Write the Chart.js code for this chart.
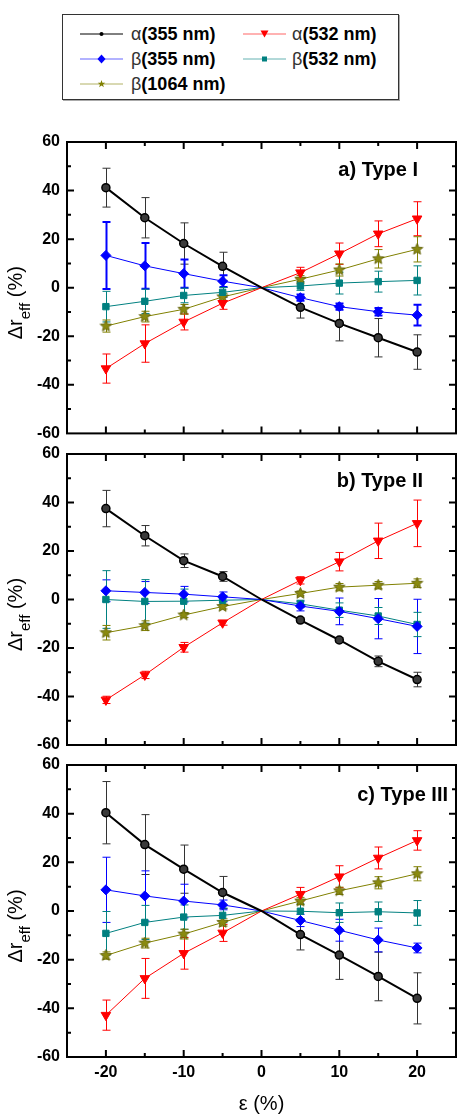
<!DOCTYPE html>
<html>
<head>
<meta charset="utf-8">
<script src="https://cdn.jsdelivr.net/npm/chart.js@4/dist/chart.umd.min.js"></script>
<style>
  body { margin: 0; background: #fff; width: 463px; height: 1114px; position: relative; overflow: hidden;
         font-family: "Liberation Sans", Arial, sans-serif; }
  canvas { position: absolute; left: 0; }
  #legend { position: absolute; left: 62px; top: 14px; width: 337px; height: 86px; box-sizing: border-box;
            border: 1px solid #333; box-shadow: 1px 1px 0 #aaa; }
  .item { position: absolute; height: 22px; line-height: 22px; font-size: 18px; font-weight: bold; white-space: nowrap; }
  .item svg { position: absolute; top: 5px; }
  .greek { font-weight: normal; color: #333; }
</style>
</head>
<body>
<div id="legend"></div>
<canvas id="chartA" width="463" height="325" style="top:125px"></canvas>
<canvas id="chartB" width="463" height="325" style="top:437px"></canvas>
<canvas id="chartC" width="463" height="366" style="top:748px"></canvas>
<script>
// strain, %
const eps = [-20, -15, -10, -5, 0, 5, 10, 15, 20];
const xMajor = [-20, -10, 0, 10, 20];
const xMinor = [-15, -5, 5, 15];
const yMajor = [-40, -20, 0, 20, 40];
const yMinor = [-50, -30, -10, 10, 30, 50];

// a) Type I
const aAlpha355 = [41.2, 28.8, 18.2, 8.8, 0, -8.1, -14.7, -20.6, -26.5];
const aAlpha355Err = [8.0, 8.3, 8.5, 5.8, 0, 4.4, 7.2, 7.9, 7.1];
const aAlpha532 = [-33.3, -23.0, -14.1, -6.4, 0, 6.2, 14.0, 22.2, 28.4];
const aAlpha532Err = [6.0, 7.7, 3.3, 2.5, 0, 2.2, 4.4, 5.3, 7.0];
const aBeta355 = [13.3, 9.0, 5.8, 2.7, 0, -4.1, -7.8, -9.9, -11.3];
const aBeta355Err = [13.8, 9.4, 5.8, 2.4, 0, 1.3, 1.3, 1.5, 4.3];
const aBeta532 = [-7.8, -5.6, -3.2, -1.9, 0, 0.7, 1.9, 2.5, 3.0];
const aBeta532Err = [6.3, 5.0, 3.0, 2.0, 0, 1.8, 4.5, 4.3, 6.0];
const aBeta1064 = [-15.8, -11.9, -8.9, -3.8, 0, 3.5, 7.3, 11.9, 15.8];
const aBeta1064Err = [2.5, 2.2, 2.0, 1.5, 0, 1.5, 2.5, 3.8, 5.2];

// b) Type II
const bAlpha355 = [37.5, 26.3, 16.0, 9.5, 0, -8.5, -16.7, -25.5, -33.0];
const bAlpha355Err = [7.5, 4.2, 2.8, 2.0, 0, 1.0, 1.0, 2.2, 3.0];
const bAlpha532 = [-41.4, -31.1, -19.7, -9.6, 0, 7.9, 15.6, 24.2, 31.4];
const bAlpha532Err = [1.5, 1.5, 2.0, 1.0, 0, 1.5, 3.8, 7.3, 9.6];
const bBeta355 = [3.6, 2.9, 2.2, 1.1, 0, -2.7, -4.9, -7.9, -11.1];
const bBeta355Err = [4.5, 4.5, 3.2, 2.0, 0, 2.0, 5.5, 8.3, 11.2];
const bBeta532 = [0, -0.8, -0.7, -0.3, 0, -1.8, -4.4, -6.8, -10.3];
const bBeta532Err = [11.9, 9.0, 5.0, 2.0, 0, 1.5, 3.0, 3.5, 5.0];
const bBeta1064 = [-13.7, -10.8, -6.4, -2.9, 0, 2.5, 5.1, 5.9, 6.7];
const bBeta1064Err = [3.0, 2.0, 1.0, 1.0, 0, 1.0, 1.5, 1.5, 1.8];

// c) Type III
const cAlpha355 = [40.4, 27.3, 17.2, 7.6, 0, -9.7, -18.1, -26.9, -35.9];
const cAlpha355Err = [12.8, 12.3, 9.9, 6.6, 0, 6.3, 10.0, 10.0, 10.5];
const cAlpha532 = [-42.8, -27.7, -17.4, -9.0, 0, 6.9, 14.1, 21.8, 29.0];
const cAlpha532Err = [6.2, 8.2, 6.5, 3.5, 0, 2.8, 4.5, 4.5, 4.0];
const cBeta355 = [8.7, 6.2, 4.1, 2.5, 0, -3.9, -7.9, -11.9, -15.2];
const cBeta355Err = [13.4, 10.3, 6.9, 2.0, 0, 2.5, 4.5, 4.9, 2.0];
const cBeta532 = [-9.2, -4.7, -2.5, -1.8, 0, -0.1, -0.7, -0.3, -0.8];
const cBeta532Err = [9.0, 7.0, 5.0, 3.0, 0, 3.0, 4.0, 4.0, 5.1];
const cBeta1064 = [-18.3, -13.2, -9.5, -4.7, 0, 4.1, 8.3, 11.6, 15.3];
const cBeta1064Err = [1.5, 2.0, 2.0, 1.5, 0, 1.5, 1.5, 2.5, 2.9];

const FONT = '"Liberation Sans", Arial, sans-serif';

// star marker for beta(1064)
function starImage(size, fill, stroke) {
  const c = document.createElement('canvas');
  c.width = size; c.height = size;
  const g = c.getContext('2d');
  const r = size / 2 - 0.5, cx = size / 2, cy = size / 2;
  g.beginPath();
  for (let i = 0; i < 10; i++) {
    const a = -Math.PI / 2 + i * Math.PI / 5;
    const rr = i % 2 ? r * 0.45 : r;
    g.lineTo(cx + rr * Math.cos(a), cy + rr * Math.sin(a));
  }
  g.closePath();
  g.fillStyle = fill; g.fill();
  g.strokeStyle = stroke; g.lineWidth = 0.8; g.stroke();
  return c;
}
const star = starImage(13, '#8a8a10', '#5a5a00');

const styles = [
  { name: '355 nm', greek: 'α', color: '#000000', width: 2, point: 'circle', radius: 4, fill: '#3a3a3a', pborder: 1.5, err: '#333333' },
  { name: '532 nm', greek: 'α', color: '#ff0000', width: 1, point: 'triangle', rot: 180, radius: 5.5, fill: '#ff0000', pborder: 1, err: '#ff0000' },
  { name: '355 nm', greek: 'β', color: '#0000ff', width: 1, point: 'rectRot', radius: 5, fill: '#0000ff', pborder: 1, err: '#0000ff' },
  { name: '532 nm', greek: 'β', color: '#008080', width: 1, point: 'rect', radius: 4.5, fill: '#008080', pborder: 1, err: '#008080' },
  { name: '1064 nm', greek: 'β', color: '#808000', width: 1, point: star, radius: 6, fill: '#808000', pborder: 1, err: '#808000' }
];

const errorBars = {
  id: 'errorBars',
  beforeDatasetsDraw(chart) {
    const ctx = chart.ctx, xs = chart.scales.x, ys = chart.scales.y, area = chart.chartArea;
    ctx.save();
    ctx.beginPath(); ctx.rect(area.left, area.top, area.right - area.left, area.bottom - area.top); ctx.clip();
    chart.data.datasets.forEach(ds => {
      ctx.strokeStyle = ds.errColor;
      ctx.lineWidth = ds.errWidth;
      ds.data.forEach((p, j) => {
        const e = ds.errors[j];
        if (!e) return;
        const x = Math.round(xs.getPixelForValue(p.x)) + 0.5;
        const y1 = ys.getPixelForValue(p.y + e), y2 = ys.getPixelForValue(p.y - e);
        ctx.beginPath();
        ctx.moveTo(x, y1); ctx.lineTo(x, y2);
        ctx.moveTo(x - 4, y1); ctx.lineTo(x + 4, y1);
        ctx.moveTo(x - 4, y2); ctx.lineTo(x + 4, y2);
        ctx.stroke();
      });
    });
    ctx.restore();
  }
};

const frame = {
  id: 'frame',
  afterDraw(chart, args, opts) {
    const ctx = chart.ctx, xs = chart.scales.x, ys = chart.scales.y, a = chart.chartArea;
    ctx.save();
    ctx.strokeStyle = '#000';
    ctx.lineWidth = 2;
    ctx.strokeRect(a.left, a.top, a.right - a.left, a.bottom - a.top);
    const tick = (vals, len) => {
      vals.forEach(v => {
        const x = xs.getPixelForValue(v);
        ctx.beginPath();
        ctx.moveTo(x, a.bottom); ctx.lineTo(x, a.bottom - len);
        ctx.moveTo(x, a.top); ctx.lineTo(x, a.top + len);
        ctx.stroke();
      });
    };
    const ytick = (vals, len) => {
      vals.forEach(v => {
        const y = ys.getPixelForValue(v);
        ctx.beginPath();
        ctx.moveTo(a.left, y); ctx.lineTo(a.left + len, y);
        ctx.moveTo(a.right, y); ctx.lineTo(a.right - len, y);
        ctx.stroke();
      });
    };
    tick(xMajor, 7); tick(xMinor, 4);
    ytick(yMajor, 7); ytick(yMinor, 4);

    // panel label
    ctx.fillStyle = '#000';
    ctx.font = 'bold 20px ' + FONT;
    ctx.textAlign = 'right';
    ctx.textBaseline = 'middle';
    ctx.fillText(opts.label, opts.labelRight, a.top + opts.labelDy);

    // y axis title: Δr_eff (%)
    const main = '20px ' + FONT, sub = '15px ' + FONT;
    ctx.font = main; const w1 = ctx.measureText('Δr').width;
    ctx.font = sub; const w2 = ctx.measureText('eff').width;
    ctx.font = main; const w3 = ctx.measureText(' (%)').width;
    const total = w1 + w2 + w3;
    const cy = (a.top + a.bottom) / 2 + 15;
    ctx.save();
    ctx.translate(22, cy + total / 2);
    ctx.rotate(-Math.PI / 2);
    ctx.textAlign = 'left';
    ctx.textBaseline = 'alphabetic';
    ctx.font = main; ctx.fillText('Δr', 0, 0);
    ctx.font = sub; ctx.fillText('eff', w1, 8);
    ctx.font = main; ctx.fillText(' (%)', w1 + w2, 0);
    ctx.restore();

    if (opts.xTitle) {
      ctx.font = '20px ' + FONT;
      ctx.textAlign = 'center';
      ctx.textBaseline = 'alphabetic';
      ctx.fillText(opts.xTitle, (a.left + a.right) / 2, a.bottom + 53);
    }
    ctx.restore();
  }
};

function makePanel(id, series, label, labelRight, labelDy, showX) {
  const datasets = series.map(([vals, errs], k) => {
    const s = styles[k];
    return {
      data: eps.map((x, i) => ({ x: x, y: vals[i] })),
      errors: errs,
      errColor: s.err,
      errWidth: (id === 'chartA' && k === 2) ? 2 : 1,
      borderColor: s.color,
      borderWidth: s.width,
      pointStyle: s.point,
      pointRotation: s.rot || 0,
      pointRadius: eps.map(x => x === 0 ? 0 : s.radius),
      pointBackgroundColor: s.fill,
      pointBorderColor: s.color,
      pointBorderWidth: s.pborder,
      tension: 0,
      fill: false
    };
  });
  new Chart(document.getElementById(id), {
    type: 'line',
    data: { datasets },
    plugins: [errorBars, frame],
    options: {
      responsive: false,
      animation: false,
      layout: { padding: { top: 17, right: 3, bottom: showX ? 0 : (id === 'chartA' ? 16 : 17), left: 0 } },
      plugins: {
        legend: { display: false },
        tooltip: { enabled: false },
        frame: { label, labelRight, labelDy, xTitle: showX ? 'ε (%)' : '' }
      },
      scales: {
        x: {
          type: 'linear', min: -25, max: 25,
          grid: { display: false, drawTicks: false },
          border: { display: false },
          ticks: { display: showX, color: '#000', padding: 6, font: { family: FONT, size: 16, weight: 'bold' } },
          afterBuildTicks: s => { s.ticks = xMajor.map(v => ({ value: v })); },
          afterFit: s => { s.height = showX ? 57 : 0; }
        },
        y: {
          min: -60, max: 60,
          grid: { display: false, drawTicks: false },
          border: { display: false },
          ticks: { stepSize: 20, color: '#000', padding: 7, font: { family: FONT, size: 16, weight: 'bold' } },
          afterFit: s => { s.width = 67; }
        }
      }
    }
  });
}

makePanel('chartA', [[aAlpha355, aAlpha355Err], [aAlpha532, aAlpha532Err], [aBeta355, aBeta355Err], [aBeta532, aBeta532Err], [aBeta1064, aBeta1064Err]],
  'a) Type I', 418, 28, false);
makePanel('chartB', [[bAlpha355, bAlpha355Err], [bAlpha532, bAlpha532Err], [bBeta355, bBeta355Err], [bBeta532, bBeta532Err], [bBeta1064, bBeta1064Err]],
  'b) Type II', 423, 27, false);
makePanel('chartC', [[cAlpha355, cAlpha355Err], [cAlpha532, cAlpha532Err], [cBeta355, cBeta355Err], [cBeta532, cBeta532Err], [cBeta1064, cBeta1064Err]],
  'c) Type III', 448, 30, true);

// legend
function markerSvg(k) {
  const s = styles[k];
  const line = `<line x1="0" y1="6" x2="43" y2="6" stroke="${s.color}" stroke-width="1" opacity="${k ? 0.6 : 1}"/>`;
  let m = '';
  if (k === 0) m = `<circle cx="21.5" cy="6" r="2" fill="#000"/>`;
  if (k === 1) m = `<polygon points="17.5,2.5 25.5,2.5 21.5,9.5" fill="${s.fill}"/>`;
  if (k === 2) m = `<polygon points="21.5,1.5 25.5,6 21.5,10.5 17.5,6" fill="${s.fill}"/>`;
  if (k === 3) m = `<rect x="19" y="3.5" width="5" height="5" fill="${s.fill}"/>`;
  if (k === 4) {
    let pts = [];
    for (let i = 0; i < 10; i++) {
      const a = -Math.PI / 2 + i * Math.PI / 5, r = i % 2 ? 1.6 : 4;
      pts.push((21.5 + r * Math.cos(a)).toFixed(2) + ',' + (6 + r * Math.sin(a)).toFixed(2));
    }
    m = `<polygon points="${pts.join(' ')}" fill="${s.fill}"/>`;
  }
  return `<svg width="44" height="12">${line}${m}</svg>`;
}
const legendPos = [[0, 0], [1, 0], [0, 1], [1, 1], [0, 2]];
const legend = document.getElementById('legend');
styles.forEach((s, k) => {
  const [col, row] = legendPos[k];
  const div = document.createElement('div');
  div.className = 'item';
  div.style.left = (col ? 180 : 17) + 'px';
  div.style.top = (8 + row * 25) + 'px';
  div.innerHTML = markerSvg(k) + `<span style="position:absolute;left:${col ? 49 : 51}px"><span class="greek">${s.greek}</span>(${s.name})</span>`;
  legend.appendChild(div);
});
</script>
</body>
</html>
